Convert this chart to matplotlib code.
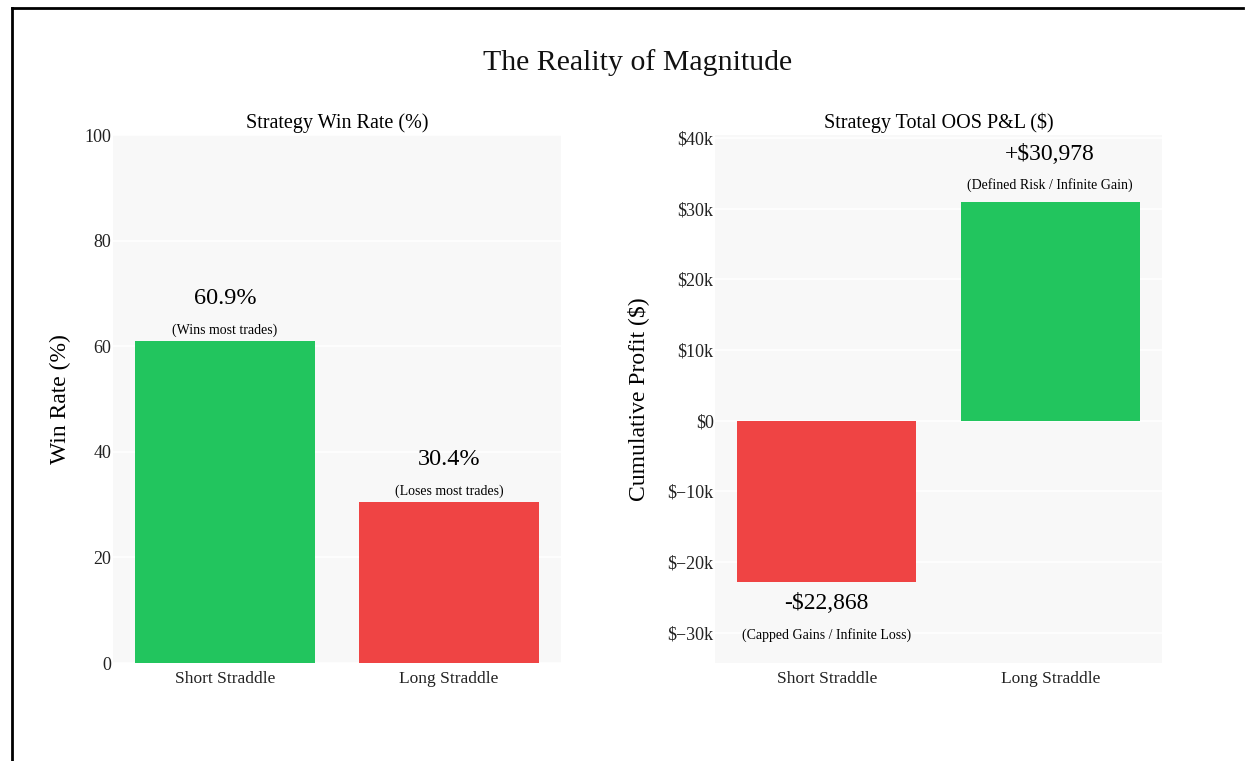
import matplotlib.pyplot as plt
from matplotlib.lines import Line2D

# data
strategies = ['Short Straddle', 'Long Straddle']
win_rate = [60.9, 30.4]
win_notes = ['(Wins most trades)', '(Loses most trades)']
pnl = [-22868, 30978]
pnl_notes = ['(Capped Gains / Infinite Loss)', '(Defined Risk / Infinite Gain)']
win_ticks = [0, 20, 40, 60, 80, 100]
pnl_ticks = [-30000, -20000, -10000, 0, 10000, 20000, 30000, 40000]

GREEN = '#22c55e'
RED = '#ef4444'
BG = '#f8f8f8'
W, H = 1248, 761

plt.rcParams['font.family'] = ['Liberation Serif', 'DejaVu Serif']


def fmt_money(v):
    k = int(v / 1000)
    if k == 0:
        return '$0'
    if k < 0:
        return '$\u2212' + str(-k) + 'k'
    return '$' + str(k) + 'k'


def style_axis(ax):
    ax.set_facecolor(BG)
    for s in ax.spines.values():
        s.set_visible(False)
    ax.tick_params(axis='y', length=0, labelsize=13, colors='#222222', pad=1)
    ax.tick_params(axis='x', length=0, labelsize=12.5, colors='#222222', pad=6)
    ax.grid(axis='y', color='white', linewidth=1.2)
    ax.set_axisbelow(True)
    ax.set_xlim(-0.5, 1.5)


def px_axes(x0, y0, x1, y1):
    return [x0 / W, 1 - y1 / H, (x1 - x0) / W, (y1 - y0) / H]


def main():
    fig = plt.figure(figsize=(W / 100, H / 100), dpi=100)

    # frame line on the left and top (picture is cropped on right/bottom)
    fig.add_artist(Line2D([11.5 / W, 11.5 / W], [0, 1 - 7.5 / H], color='black', lw=2,
                          transform=fig.transFigure))
    fig.add_artist(Line2D([11.5 / W, 1243 / W], [1 - 7.5 / H, 1 - 7.5 / H], color='black', lw=2,
                          transform=fig.transFigure))

    fig.text(638 / W, 1 - 63 / H, 'The Reality of Magnitude', ha='center', va='center',
             fontsize=21.5, color='#111111')

    # win rate
    ax1 = fig.add_axes(px_axes(113, 135, 561, 663))
    style_axis(ax1)
    cols = [GREEN, RED]
    x = list(range(len(strategies)))
    ax1.bar(x, win_rate, width=0.8, color=cols)
    ax1.set_ylim(0, 100)
    ax1.set_yticks(win_ticks)
    ax1.set_xticks(x)
    ax1.set_xticklabels(strategies)
    ax1.set_ylabel('Win Rate (%)', fontsize=17, labelpad=10)
    ax1.set_title('Strategy Win Rate (%)', fontsize=14.5, pad=5)
    for i, v in enumerate(win_rate):
        ax1.annotate(f'{v}%', (i, v), xytext=(0, 31), textcoords='offset points',
                     ha='center', va='center', fontsize=17.5)
        ax1.annotate(win_notes[i], (i, v), xytext=(0, 8), textcoords='offset points',
                     ha='center', va='center', fontsize=10)

    # total P&L
    ax2 = fig.add_axes(px_axes(715, 135, 1162, 663))
    style_axis(ax2)
    pcols = [GREEN if v >= 0 else RED for v in pnl]
    ax2.bar(x, pnl, width=0.8, color=pcols)
    ax2.set_ylim(-34300, 40400)
    ax2.set_yticks(pnl_ticks)
    ax2.set_yticklabels([fmt_money(t) for t in pnl_ticks])
    ax2.set_xticks(x)
    ax2.set_xticklabels(strategies)
    ax2.set_ylabel('Cumulative Profit ($)', fontsize=17, labelpad=13)
    ax2.set_title('Strategy Total OOS P&L ($)', fontsize=14.5, pad=5)
    for i, v in enumerate(pnl):
        label = ('+$' if v >= 0 else '-$') + f'{abs(v):,}'
        if v >= 0:
            big, small = 34, 12
        else:
            big, small = -15, -38
        ax2.annotate(label, (i, v), xytext=(0, big), textcoords='offset points',
                     ha='center', va='center', fontsize=17)
        ax2.annotate(pnl_notes[i], (i, v), xytext=(0, small), textcoords='offset points',
                     ha='center', va='center', fontsize=10)

    fig.savefig('out.png', dpi=100)


if __name__ == "__main__":
    main()
